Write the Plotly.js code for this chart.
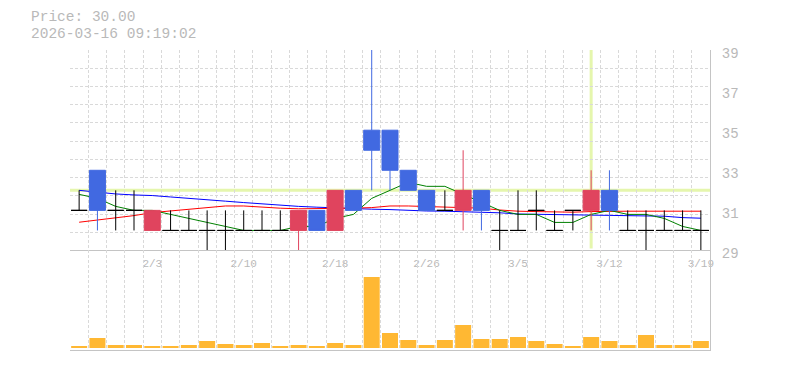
<!DOCTYPE html>
<html><head><meta charset="utf-8">
<script src="https://cdn.plot.ly/plotly-3.0.1.min.js"></script>
<style>html,body{margin:0;padding:0;background:#fff}#chart{width:785px;height:370px}</style>
</head><body><div id="chart"></div>
<script>
// ---- data ----
const dates = ['1/28','1/29','1/30','2/2','2/3','2/4','2/5','2/6','2/9','2/10','2/12','2/13','2/16','2/17','2/18','2/19','2/20','2/24','2/25','2/26','2/27','3/2','3/3','3/4','3/5','3/6','3/9','3/10','3/11','3/12','3/13','3/16','3/17','3/18','3/19'];
const openP  = [31,33,31,31,30,30,30,30,30,30,30,30,30,31,30,32,35,35,33,32,31,31,32,30,30,31,30,31,31,32,30,30,30,30,30];
const highP  = [32,33,32,32,31,31,31,31,31,31,31,31,31,31,32,32,39,35,33,32,32,34,32,31,32,32,31,31,33,33,31,31,31,31,31];
const lowP   = [31,30,30,30,30,30,30,29,29,30,30,30,29,30,30,31,32,32,32,31,31,30,30,29,30,30,30,30,30,30,30,29,30,30,29];
const closeP = [31,31,31,31,31,30,30,30,30,30,30,30,31,30,32,31,34,33,32,31,31,32,31,30,30,31,30,31,32,31,30,30,30,30,30];
const volume = [200,1000,300,300,200,200,300,700,400,300,500,200,300,200,500,300,7100,1500,800,300,800,2300,900,900,1100,700,400,200,1100,700,300,1300,300,300,700];
const ma5  = [31.8,31.6,31.2,31.0,31.0,30.8,30.6,30.4,30.2,30.0,30.0,30.0,30.2,30.2,30.6,30.8,31.6,32.0,32.4,32.2,32.2,31.8,31.4,31.0,30.8,30.8,30.4,30.4,30.8,31.0,30.8,30.8,30.6,30.2,30.0];
const ma25 = [30.41,30.51,30.61,30.74,30.89,30.97,31.06,31.16,31.22,31.22,31.16,31.11,31.08,31.08,31.10,31.11,31.14,31.22,31.22,31.19,31.19,31.16,31.11,31.02,30.96,30.94,30.91,30.91,30.94,30.96,30.96,30.96,30.96,30.96,30.96];
const ma75 = [32.0,31.9,31.82,31.77,31.74,31.67,31.59,31.51,31.46,31.39,31.32,31.26,31.20,31.16,31.12,31.07,31.06,31.04,31.00,30.97,30.96,30.94,30.92,30.88,30.82,30.81,30.77,30.77,30.77,30.77,30.76,30.72,30.71,30.64,30.61];
const tickLabels = ['2/3','2/10','2/18','2/26','3/5','3/12','3/19'];
const priceTicks = [29,31,33,35,37,39];
const priceText = 'Price: 30.00';
const timeText = '2026-03-16 09:19:02';
const crossDate = '3/11';
const crossPrice = 32;

// ---- styles ----
const MONO = '"Liberation Mono", "DejaVu Sans Mono", monospace';
const TXT = '#b9b9b9';
const GRID = '#d9d9d9';
const AXL = '#c4c4c4';
const RED = '#e0445e';
const BLUE = '#4169e1';
const VOL = '#ffb833';
const CROSS = '#e5f6ad';

const idx = dates.map((d, i) => i);
const body = idx.filter(i => openP[i] !== closeP[i]);
const doji = idx.filter(i => openP[i] === closeP[i]);
const pick = (arr, set) => set.map(i => arr[i]);

const traces = [
  {type:'scatter', mode:'lines', x: idx, y: ma75, xaxis:'x', yaxis:'y', line:{color:'#0000ff', width:1}, hoverinfo:'skip'},
  {type:'scatter', mode:'lines', x: idx, y: ma25, xaxis:'x', yaxis:'y', line:{color:'#ff0000', width:1}, hoverinfo:'skip'},
  {type:'scatter', mode:'lines', x: idx, y: ma5, xaxis:'x', yaxis:'y', line:{color:'#008000', width:1}, hoverinfo:'skip'},
  {type:'candlestick', x: body, open: pick(openP, body), high: pick(highP, body), low: pick(lowP, body), close: pick(closeP, body),
   xaxis:'x', yaxis:'y3', whiskerwidth:0,
   increasing:{line:{color:RED, width:1}, fillcolor:RED},
   decreasing:{line:{color:BLUE, width:1}, fillcolor:BLUE}, hoverinfo:'skip'},
  {type:'candlestick', x: doji, open: pick(openP, doji), high: pick(highP, doji), low: pick(lowP, doji), close: pick(closeP, doji),
   xaxis:'x', yaxis:'y3', whiskerwidth:0,
   increasing:{line:{color:'#000', width:1}, fillcolor:'#000'},
   decreasing:{line:{color:'#000', width:1}, fillcolor:'#000'}, hoverinfo:'skip'},
  {type:'scatter', mode:'lines', x: [], y: [], xaxis:'x', yaxis:'y4', hoverinfo:'skip'},
  {type:'bar', x: idx, y: volume, xaxis:'x2', yaxis:'y2', marker:{color: VOL, line:{width:0}}, hoverinfo:'skip'}
];

const minorGrid = {tickmode:'linear', tick0:-0.5, dtick:1, showgrid:true, gridcolor:GRID, griddash:'3px,2px', gridwidth:1, ticks:''};
const PRICE_BOTTOM = 0.3317;

const layout = {
  width:785, height:370,
  margin:{l:70, r:75, t:50, b:20, pad:0},
  paper_bgcolor:'#fff', plot_bgcolor:'#fff',
  showlegend:false,
  boxgap:0.125, boxgroupgap:0,
  bargap:0.125,
  xaxis:{domain:[0,1], anchor:'y', range:[-0.5,34.5], tickmode:'array',
    tickvals: tickLabels.map(t => dates.indexOf(t)), ticktext: tickLabels,
    showgrid:false, zeroline:false, showline:true, linecolor:AXL, linewidth:1, ticks:'',
    ticklabelstandoff:2,
    tickfont:{family:MONO, size:11, color:TXT}, minor:minorGrid, rangeslider:{visible:false}, fixedrange:true},
  xaxis2:{domain:[0,1], anchor:'y2', range:[-0.5,34.5], showticklabels:false, showgrid:false, zeroline:false,
    showline:true, linecolor:AXL, linewidth:1, ticks:'', minor:minorGrid, fixedrange:true},
  yaxis:{domain:[PRICE_BOTTOM,1], anchor:'x', side:'right', range:[29,39], tickmode:'array', tickvals:priceTicks,
    showgrid:false, zeroline:false, showline:true, linecolor:AXL, linewidth:1, ticks:'', ticklabelstandoff:8,
    ticklabelshift:3,
    tickfont:{family:MONO, size:14, color:TXT}, fixedrange:true},
  yaxis3:{overlaying:'y', anchor:'x', side:'right', range:[29,39], visible:false, fixedrange:true},
  yaxis4:{overlaying:'y', anchor:'x', side:'right', range:[0,11], tickmode:'linear', tick0:0, dtick:1,
    showgrid:true, gridcolor:GRID, griddash:'3px,2px', gridwidth:1, showticklabels:false, zeroline:false,
    showline:false, ticks:'', fixedrange:true},
  yaxis2:{domain:[0,PRICE_BOTTOM], anchor:'x2', side:'right', range:[-200,9750], showgrid:false, zeroline:false,
    showticklabels:false, showline:true, linecolor:AXL, linewidth:1, ticks:'', fixedrange:true},
  shapes:[
    {type:'line', layer:'below', xref:'x', yref:'y domain', x0:dates.indexOf(crossDate), x1:dates.indexOf(crossDate), y0:0.01, y1:1,
     line:{color:CROSS, width:3}},
    {type:'line', layer:'below', xref:'x domain', yref:'y', x0:0, x1:1, y0:crossPrice, y1:crossPrice,
     line:{color:CROSS, width:3}}
  ],
  annotations:[
    {text:priceText, xref:'paper', yref:'paper', x:-40/640, y:1+(50-17.4)/300, xanchor:'left', yanchor:'middle',
     showarrow:false, borderpad:0, font:{family:MONO, size:14.5, color:TXT}},
    {text:timeText, xref:'paper', yref:'paper', x:-40/640, y:1+(50-34.2)/300, xanchor:'left', yanchor:'middle',
     showarrow:false, borderpad:0, font:{family:MONO, size:14.5, color:TXT}}
  ]
};

Plotly.newPlot('chart', traces, layout, {displayModeBar:false, staticPlot:true});
</script>
</body></html>
